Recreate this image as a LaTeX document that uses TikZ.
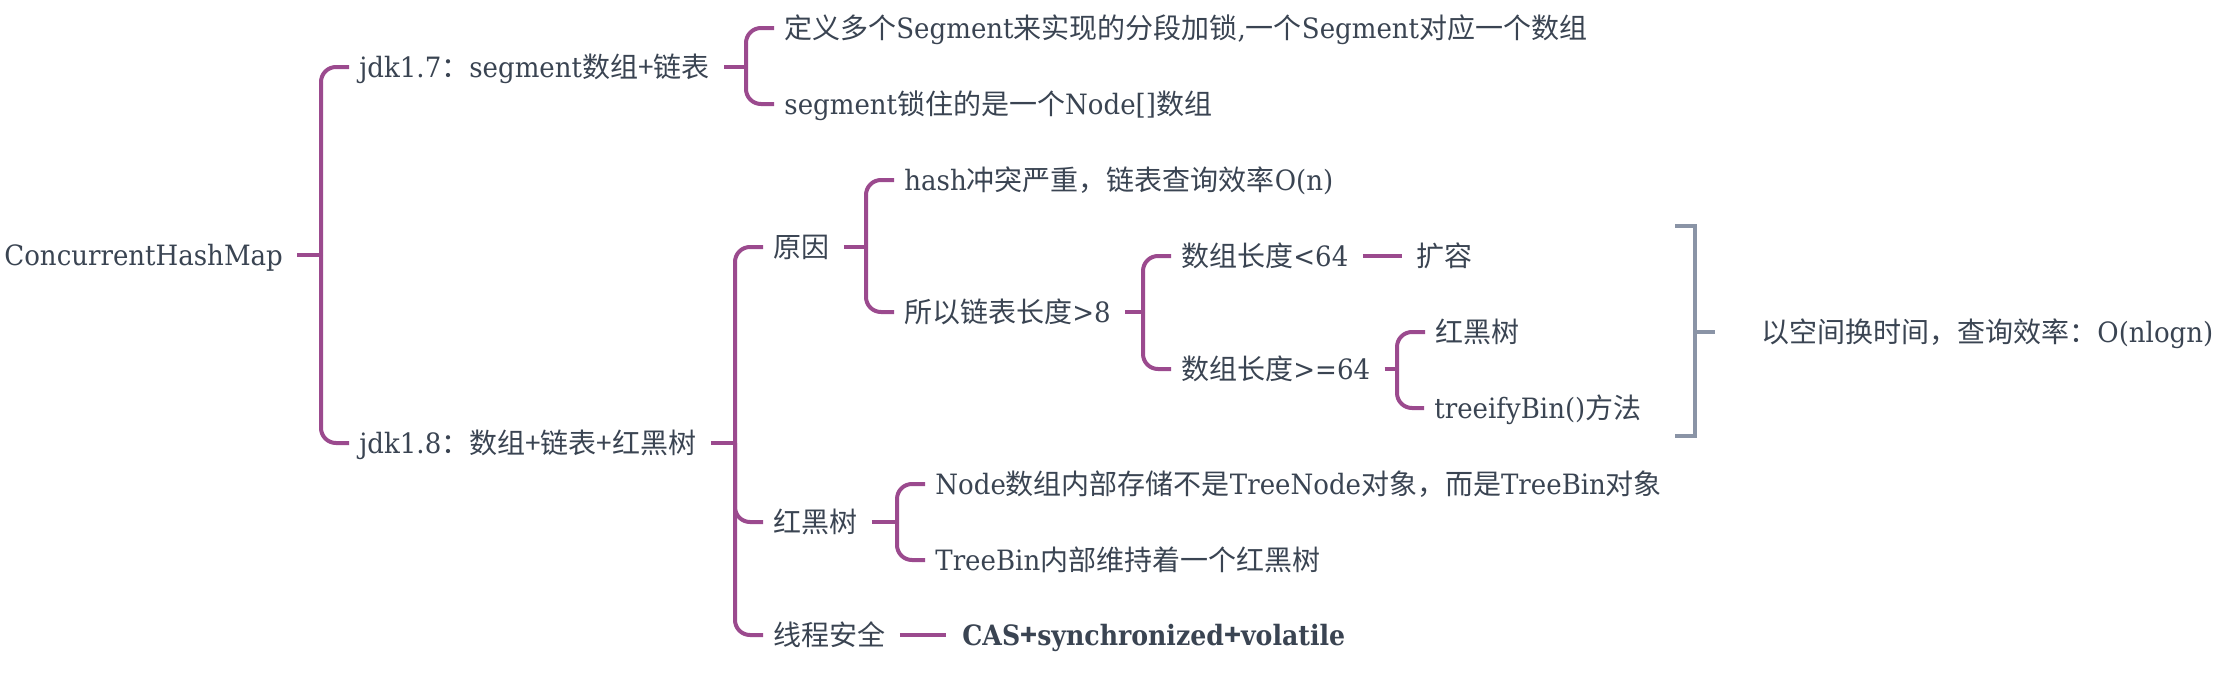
\documentclass[tikz,border=0pt]{standalone}
\usepackage{fontspec}
\setmainfont[FakeStretch=0.93,BoldFeatures={FakeStretch=0.9}]{DejaVu Serif}
\newfontfamily\zhfont{Noto Sans CJK SC}
\newcommand{\zh}[1]{{\zhfont #1}}
\definecolor{linkc}{HTML}{9B4A8E}
\definecolor{txtc}{HTML}{3A4452}
\definecolor{bracec}{HTML}{8A94A6}
\tikzset{%
  item/.style={anchor=west,inner sep=0pt,text height=10.5pt,text depth=0pt,text=txtc},%
  link/.style={draw=linkc,line width=2pt,rounded corners=7.5pt},%
  brace/.style={draw=bracec,line width=2pt},%
}
\begin{document}
\begin{tikzpicture}[x=0.5pt,y=-0.5pt,font=\fontsize{14}{17}\selectfont]
    \useasboundingbox (0,0) rectangle (2224,675);%
    % first level
    \node[item] at (4,255) (root) {ConcurrentHashMap};%
    \node[item] at (359,67) (j7) {jdk1.7\zh{：}segment\zh{数组+链表}};%
    \node[item] at (359,443) (j8) {jdk1.8\zh{：数组+链表+红黑树}};%
    % jdk1.7
    \node[item] at (784,28) (seg1) {\zh{定义多个}Segment\zh{来实现的分段加锁},\zh{一个}Segment\zh{对应一个数组}};%
    \node[item] at (784,104) (seg2) {segment\zh{锁住的是一个}Node[]\zh{数组}};%
    % jdk1.8
    \node[item] at (773,247) (why) {\zh{原因}};%
    \node[item] at (773,522) (rbt) {\zh{红黑树}};%
    \node[item] at (773,635) (safe) {\zh{线程安全}};%
    \node[item] at (904,180) (hash) {hash\zh{冲突严重，链表查询效率}O(n)};%
    \node[item] at (904,312) (gt8) {\zh{所以链表长度}>8};%
    \node[item] at (1181,256) (lt64) {\zh{数组长度}<64};%
    \node[item] at (1416,256) (grow) {\zh{扩容}};%
    \node[item] at (1181,369) (ge64) {\zh{数组长度}>=64};%
    \node[item] at (1435,332) (rb2) {\zh{红黑树}};%
    \node[item] at (1434,408) (treeify) {treeifyBin()\zh{方法}};%
    \node[item] at (935,484) (nd) {Node\zh{数组内部存储不是}TreeNode\zh{对象，而是}TreeBin\zh{对象}};%
    \node[item] at (935,560) (tb) {TreeBin\zh{内部维持着一个红黑树}};%
    \node[item] at (962,635) (cas) {\textbf{CAS\zh{+}synchronized\zh{+}volatile}};%
    \node[item] at (1761,332) (note) {\zh{以空间换时间，查询效率：}O(nlogn)};%
    % branches, spine 19pt left of the first child
    \foreach \p/\f/\kids in {root/j7/{j7,j8}, j7/seg1/{seg1,seg2}, j8/why/{why,rbt,safe}, why/hash/{hash,gt8}, gt8/lt64/{lt64,ge64}, ge64/rb2/{rb2,treeify}, rbt/nd/{nd,tb}} {%
      \coordinate (\p-s) at ([xshift=-19pt]\f.west |- \p.east);%
      \draw[link] ([xshift=7pt]\p.east) -- (\p-s);%
      \foreach \c in \kids {%
        \draw[link] (\p-s) |- ([xshift=-5pt]\c.west);%
      };%
    };%
    \draw[link] ([xshift=7pt]safe.east) -- ([xshift=-8pt]cas.west);%
    \draw[link] ([xshift=7pt]lt64.east) -- ([xshift=-7pt]grow.west);%
    % summary bracket
    \coordinate (b1) at (1675,226);%
    \coordinate (b2) at (1675,436);%
    \coordinate (bm) at (1715,332);%
    \draw[brace] (b1) -- (1695,226) -- (1695,436) -- (b2);%
    \draw[brace] (1695,332) -- (bm);%
\end{tikzpicture}
\end{document}
